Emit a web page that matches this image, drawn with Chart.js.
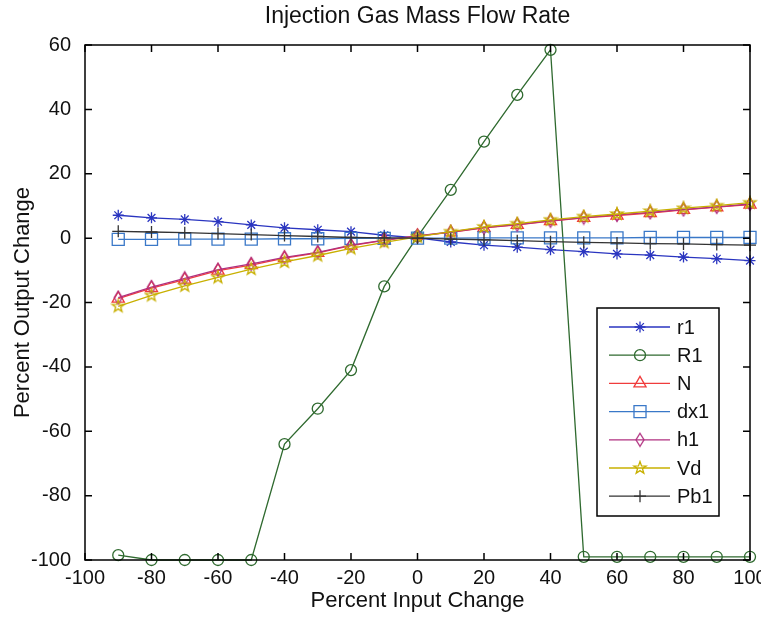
<!DOCTYPE html>
<html>
<head>
<meta charset="utf-8">
<script src="https://cdn.jsdelivr.net/npm/chart.js@4/dist/chart.umd.min.js"></script>
<style>
  body { margin: 0; background: #fff; }
  #grafico { display: block; }
</style>
</head>
<body>
<canvas id="grafico" width="761" height="617"></canvas>
<script>
// valores
const entradas = [-90, -80, -70, -60, -50, -40, -30, -20, -10, 0, 10, 20, 30, 40, 50, 60, 70, 80, 90, 100]

const r1 = [7.1, 6.3, 5.8, 5.1, 4.1, 3.2, 2.6, 2.0, 0.9, 0.1, -1.2, -2.2, -2.8, -3.6, -4.2, -4.9, -5.3, -5.9, -6.4, -7.0]
const R1 = [-98.5, -100, -100, -100, -100, -64, -53, -41, -15, 0.5, 15, 30, 44.5, 58.5, -99, -99, -99, -99, -99, -99]
const N = [-18.8, -15.5, -12.9, -10.1, -8.4, -6.2, -4.6, -2.3, -0.7, 0.7, 1.8, 3.2, 4.1, 5.3, 6.3, 7.0, 7.8, 8.8, 9.6, 10.4]
const dx1 = [-0.4, -0.4, -0.3, -0.3, -0.3, -0.2, -0.2, -0.1, -0.1, 0, 0, 0.1, 0.1, 0.1, 0.1, 0.1, 0.2, 0.2, 0.2, 0.2]
const h1 = [-18.5, -15.2, -12.5, -9.8, -8.0, -6.0, -4.4, -2.2, -0.6, 0.7, 1.9, 3.3, 4.2, 5.4, 6.4, 7.2, 8.0, 8.9, 9.7, 10.6]
const Vd = [-21.2, -17.8, -14.8, -12.2, -9.6, -7.4, -5.4, -3.2, -1.3, 0.4, 2.0, 3.5, 4.5, 5.7, 6.7, 7.5, 8.4, 9.3, 10.1, 11.0]
const Pb1 = [2.1, 1.9, 1.7, 1.4, 1.1, 0.8, 0.5, 0.2, 0.1, 0, -0.3, -0.5, -0.8, -1.1, -1.3, -1.5, -1.7, -1.8, -2.0, -2.2]

const ticksX = [-100, -80, -60, -40, -20, 0, 20, 40, 60, 80, 100]
const ticksY = [-100, -80, -60, -40, -20, 0, 20, 40, 60]

const fuente = "'Liberation Sans', Arial, sans-serif"

// marcadores que Chart.js no tiene
const crearMarcador = (tam, dibujar) => {
    const c = document.createElement('canvas')
    c.width = tam
    c.height = tam
    dibujar(c.getContext('2d'), tam / 2)
    return c
}

const pentagrama = crearMarcador(16, (g, m) => {
    g.strokeStyle = '#c8b000'
    g.lineWidth = 1.3
    g.beginPath()
    for (let i = 0; i < 10; i++) {
        const r = i % 2 === 0 ? 6.5 : 2.6
        const a = -Math.PI / 2 + i * Math.PI / 5
        const px = m + r * Math.cos(a)
        const py = m + r * Math.sin(a)
        if (i === 0) g.moveTo(px, py)
        else g.lineTo(px, py)
    }
    g.closePath()
    g.stroke()
})

const rombo = crearMarcador(16, (g, m) => {
    g.strokeStyle = '#b03080'
    g.lineWidth = 1.3
    g.beginPath()
    g.moveTo(m, m - 6.5)
    g.lineTo(m + 4, m)
    g.lineTo(m, m + 6.5)
    g.lineTo(m - 4, m)
    g.closePath()
    g.stroke()
})

const series = [
    { label: 'r1', datos: r1, color: '#2a35c0', estilo: 'star', radio: 5.5 },
    { label: 'R1', datos: R1, color: '#2f6a2f', estilo: 'circle', radio: 5.5 },
    { label: 'N', datos: N, color: '#f03c3c', estilo: 'triangle', radio: 7 },
    { label: 'dx1', datos: dx1, color: '#3a78c8', estilo: 'rect', radio: 8.5 },
    { label: 'h1', datos: h1, color: '#b03080', estilo: rombo, radio: 7 },
    { label: 'Vd', datos: Vd, color: '#c8b000', estilo: pentagrama, radio: 7 },
    { label: 'Pb1', datos: Pb1, color: '#333333', estilo: 'cross', radio: 6 }
]

const datasets = series.map((s, i) => ({
    label: s.label,
    data: entradas.map((x, j) => ({ x: x, y: s.datos[j] })),
    borderColor: s.color,
    backgroundColor: 'transparent',
    borderWidth: 1.3,
    pointStyle: s.estilo,
    pointRadius: s.radio,
    pointBorderColor: s.color,
    pointBackgroundColor: 'transparent',
    pointBorderWidth: 1.3,
    tension: 0,
    clip: false,
    order: series.length - i
}))

// caja, marcas hacia adentro y leyenda estilo matlab
const ejesMatlab = {
    id: 'ejesMatlab',
    afterLayout(chart) {
        // titulo centrado sobre el area del grafico
        if (chart.titleBlock) {
            chart.titleBlock.left = chart.chartArea.left
            chart.titleBlock.right = chart.chartArea.right
        }
    },
    afterDraw(chart) {
        const { ctx, chartArea: a, scales } = chart
        const largo = 7
        ctx.save()
        ctx.strokeStyle = '#000'
        ctx.lineWidth = 1.5
        ctx.strokeRect(a.left, a.top, a.right - a.left, a.bottom - a.top)
        ctx.beginPath()
        ticksX.forEach((v) => {
            const px = scales.x.getPixelForValue(v)
            ctx.moveTo(px, a.bottom)
            ctx.lineTo(px, a.bottom - largo)
            ctx.moveTo(px, a.top)
            ctx.lineTo(px, a.top + largo)
        })
        ticksY.forEach((v) => {
            const py = scales.y.getPixelForValue(v)
            ctx.moveTo(a.left, py)
            ctx.lineTo(a.left + largo, py)
            ctx.moveTo(a.right, py)
            ctx.lineTo(a.right - largo, py)
        })
        ctx.stroke()

        // leyenda
        const ancho = 122
        const alto = 208
        const x0 = a.right - 31 - ancho
        const y0 = a.bottom - 44 - alto
        ctx.fillStyle = '#fff'
        ctx.fillRect(x0, y0, ancho, alto)
        ctx.strokeRect(x0, y0, ancho, alto)
        ctx.font = '20px ' + fuente
        ctx.textBaseline = 'middle'
        ctx.textAlign = 'left'
        chart.data.datasets.forEach((d, i) => {
            const y = y0 + 19 + i * 28.2
            ctx.strokeStyle = d.borderColor
            ctx.lineWidth = 1.3
            ctx.beginPath()
            ctx.moveTo(x0 + 12, y)
            ctx.lineTo(x0 + 73, y)
            ctx.stroke()
            if (Chart.helpers && Chart.helpers.drawPoint) {
                ctx.fillStyle = 'transparent'
                Chart.helpers.drawPoint(ctx, {
                    pointStyle: d.pointStyle,
                    radius: d.pointRadius,
                    rotation: 0,
                    borderWidth: 1.3
                }, x0 + 43, y)
            }
            ctx.fillStyle = '#111'
            ctx.fillText(d.label, x0 + 80, y + 1)
        })
        ctx.restore()
    }
}

const config = {
    type: 'line',
    data: { datasets },
    options: {
        responsive: false,
        animation: false,
        layout: { padding: { left: 0, right: 11, top: 0, bottom: 0 } },
        plugins: {
            legend: { display: false },
            tooltip: { enabled: false },
            title: {
                display: true,
                text: 'Injection Gas Mass Flow Rate',
                color: '#111',
                font: { family: fuente, size: 23, weight: 'normal' },
                padding: { top: 3, bottom: 14.4 }
            }
        },
        scales: {
            x: {
                type: 'linear',
                min: -100,
                max: 100,
                grid: { display: false, drawTicks: false },
                border: { display: false },
                afterBuildTicks: (s) => { s.ticks = ticksX.map((v) => ({ value: v })) },
                afterFit: (s) => { s.height = 57; s.paddingRight = 11 },
                ticks: {
                    color: '#111',
                    padding: 6,
                    maxRotation: 0,
                    autoSkip: false,
                    font: { family: fuente, size: 20 }
                },
                title: {
                    display: true,
                    text: 'Percent Input Change',
                    color: '#111',
                    font: { family: fuente, size: 22 },
                    padding: { top: 0, bottom: 3 }
                }
            },
            y: {
                type: 'linear',
                min: -100,
                max: 60,
                grid: { display: false, drawTicks: false },
                border: { display: false },
                afterBuildTicks: (s) => { s.ticks = ticksY.map((v) => ({ value: v })) },
                afterFit: (s) => { s.width = 85 },
                ticks: {
                    color: '#111',
                    padding: 14,
                    autoSkip: false,
                    font: { family: fuente, size: 20 }
                },
                title: {
                    display: true,
                    text: 'Percent Output Change',
                    color: '#111',
                    font: { family: fuente, size: 22 },
                    padding: { top: 10, bottom: 0 }
                }
            }
        }
    },
    plugins: [ejesMatlab]
}

const grafico = new Chart(document.getElementById('grafico'), config)
</script>
</body>
</html>
